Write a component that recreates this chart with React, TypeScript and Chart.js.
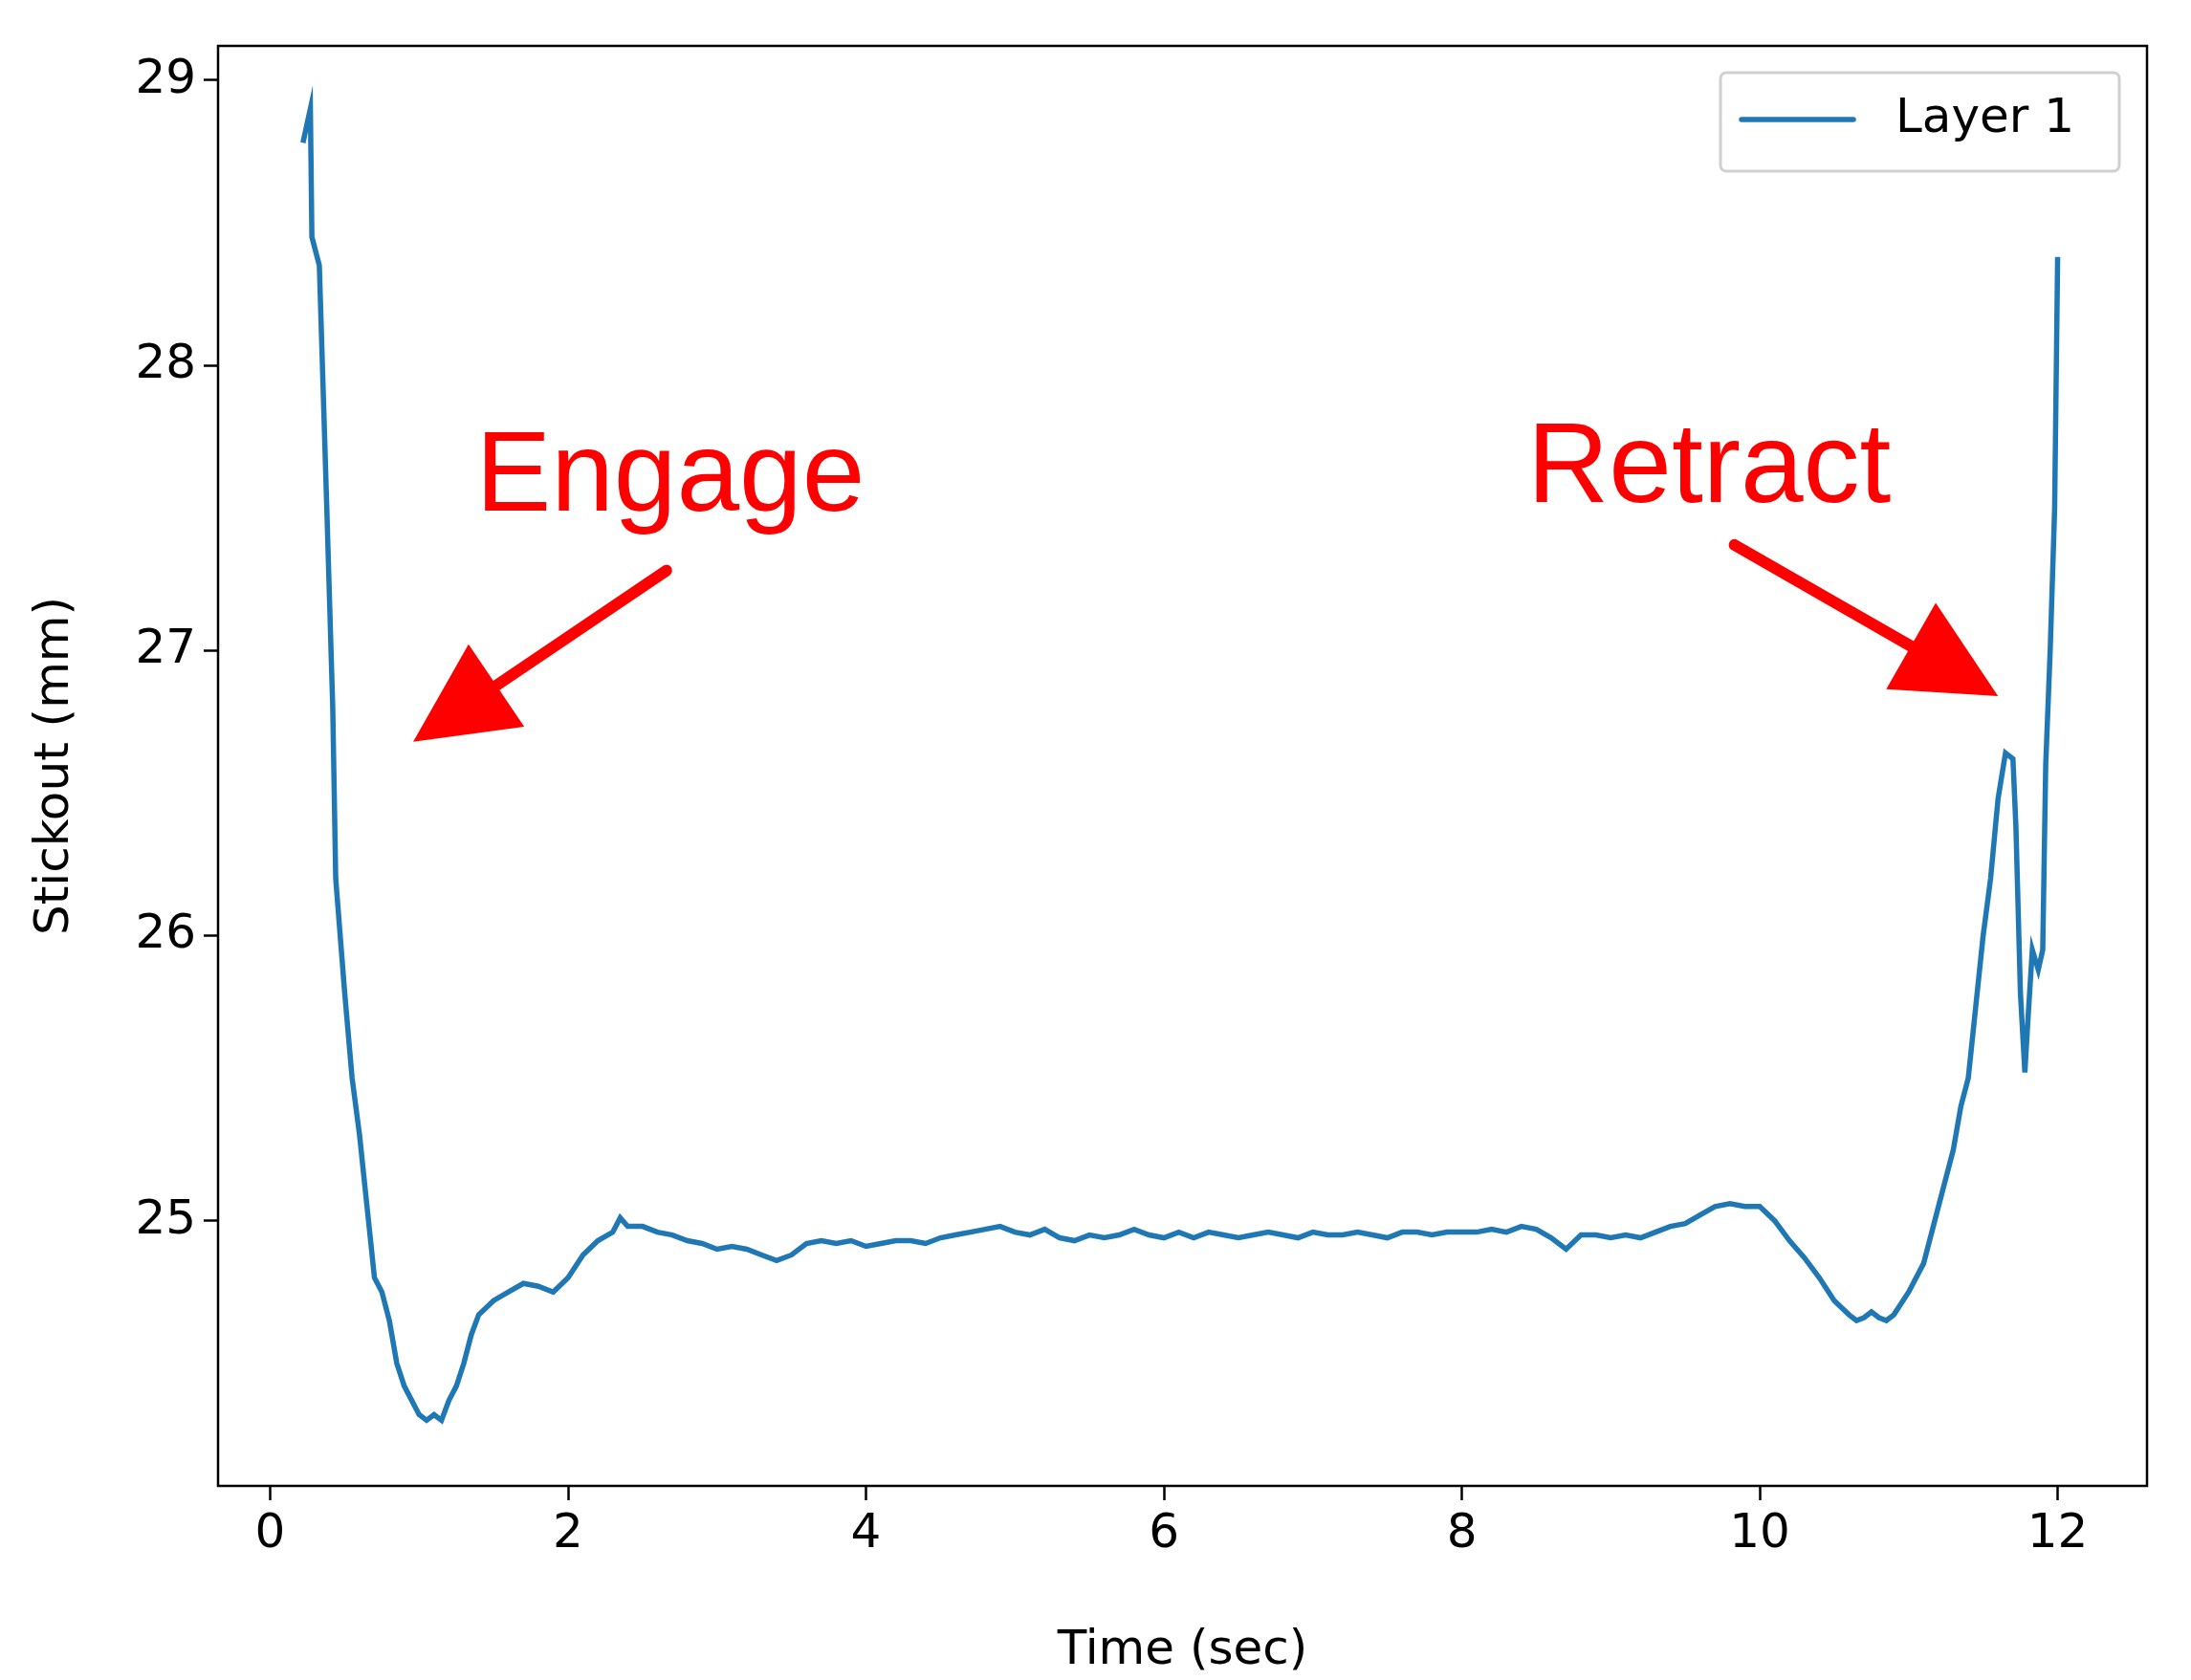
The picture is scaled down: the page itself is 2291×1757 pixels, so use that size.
import React, { useEffect, useRef } from "react";
import { Chart, registerables } from "chart.js";
Chart.register(...registerables);

const timeSec = [0.22,0.27,0.28,0.33,0.38,0.42,0.44,0.5,0.55,0.6,0.65,0.7,0.75,0.8,0.85,0.9,1.0,1.05,1.1,1.15,1.2,1.25,1.3,1.35,1.4,1.5,1.6,1.7,1.8,1.9,2.0,2.1,2.2,2.3,2.35,2.4,2.5,2.6,2.7,2.8,2.9,3.0,3.1,3.2,3.3,3.4,3.5,3.6,3.7,3.8,3.9,4.0,4.1,4.2,4.3,4.4,4.5,4.6,4.7,4.8,4.9,5.0,5.1,5.2,5.3,5.4,5.5,5.6,5.7,5.8,5.9,6.0,6.1,6.2,6.3,6.4,6.5,6.6,6.7,6.8,6.9,7.0,7.1,7.2,7.3,7.4,7.5,7.6,7.7,7.8,7.9,8.0,8.1,8.2,8.3,8.4,8.5,8.6,8.7,8.8,8.9,9.0,9.1,9.2,9.3,9.4,9.5,9.6,9.7,9.8,9.9,10.0,10.1,10.2,10.3,10.4,10.5,10.6,10.65,10.7,10.75,10.8,10.85,10.9,11.0,11.1,11.2,11.3,11.35,11.4,11.45,11.5,11.55,11.6,11.65,11.7,11.72,11.75,11.78,11.8,11.83,11.87,11.9,11.92,11.95,11.98,12.0];
const stickout = [28.78,28.9,28.45,28.35,27.5,26.8,26.2,25.8,25.5,25.3,25.05,24.8,24.75,24.65,24.5,24.42,24.32,24.3,24.32,24.3,24.37,24.42,24.5,24.6,24.67,24.72,24.75,24.78,24.77,24.75,24.8,24.88,24.93,24.96,25.01,24.98,24.98,24.96,24.95,24.93,24.92,24.9,24.91,24.9,24.88,24.86,24.88,24.92,24.93,24.92,24.93,24.91,24.92,24.93,24.93,24.92,24.94,24.95,24.96,24.97,24.98,24.96,24.95,24.97,24.94,24.93,24.95,24.94,24.95,24.97,24.95,24.94,24.96,24.94,24.96,24.95,24.94,24.95,24.96,24.95,24.94,24.96,24.95,24.95,24.96,24.95,24.94,24.96,24.96,24.95,24.96,24.96,24.96,24.97,24.96,24.98,24.97,24.94,24.9,24.95,24.95,24.94,24.95,24.94,24.96,24.98,24.99,25.02,25.05,25.06,25.05,25.05,25.0,24.93,24.87,24.8,24.72,24.67,24.65,24.66,24.68,24.66,24.65,24.67,24.75,24.85,25.05,25.25,25.4,25.5,25.75,26.0,26.2,26.48,26.64,26.62,26.38,25.8,25.52,25.7,25.95,25.88,25.95,26.6,27.0,27.5,28.38];
const xTicks = [0, 2, 4, 6, 8, 10, 12];
const yTicks = [25, 26, 27, 28, 29];
const seriesLabel = "Layer 1";
const annotations = [
  { text: "Engage", x: 1.38, y: 27.49, fromX: 2.66, fromY: 27.28, toX: 0.96, toY: 26.68 },
  { text: "Retract", x: 8.44, y: 27.52, fromX: 9.83, fromY: 27.37, toX: 11.6, toY: 26.84 },
];

const FONT = "'DejaVu Sans', sans-serif";

const overlay = {
  id: "overlay",
  afterDraw(chart: any) {
    const { ctx, chartArea: a, scales } = chart;
    const xs = scales.x, ys = scales.y;
    ctx.save();
    ctx.strokeStyle = "#000"; ctx.lineWidth = 2.5;
    ctx.strokeRect(a.left, a.top, a.right - a.left, a.bottom - a.top);
    for (const an of annotations) {
      ctx.fillStyle = "#ff0000"; ctx.strokeStyle = "#ff0000";
      ctx.font = "118px 'Liberation Sans', Arial, sans-serif";
      ctx.textBaseline = "alphabetic"; ctx.textAlign = "left";
      ctx.fillText(an.text, xs.getPixelForValue(an.x), ys.getPixelForValue(an.y));
      const x1 = xs.getPixelForValue(an.fromX), y1 = ys.getPixelForValue(an.fromY);
      const x2 = xs.getPixelForValue(an.toX), y2 = ys.getPixelForValue(an.toY);
      const ang = Math.atan2(y2 - y1, x2 - x1);
      const hl = 105, hw = 52;
      const bx = x2 - hl * Math.cos(ang), by = y2 - hl * Math.sin(ang);
      ctx.lineWidth = 12; ctx.lineCap = "round";
      ctx.beginPath(); ctx.moveTo(x1, y1); ctx.lineTo(bx, by); ctx.stroke();
      ctx.beginPath(); ctx.moveTo(x2, y2);
      ctx.lineTo(bx + hw * Math.sin(ang), by - hw * Math.cos(ang));
      ctx.lineTo(bx - hw * Math.sin(ang), by + hw * Math.cos(ang));
      ctx.closePath(); ctx.fill();
    }
    // legend
    const lx = a.right - 446, ly = a.top + 28, lw = 417, lh = 103;
    ctx.fillStyle = "rgba(255,255,255,0.8)"; ctx.strokeStyle = "#d0d0d0"; ctx.lineWidth = 3;
    ctx.beginPath(); (ctx as any).roundRect(lx, ly, lw, lh, 6); ctx.fill(); ctx.stroke();
    ctx.strokeStyle = "#1f77b4"; ctx.lineWidth = 5.5;
    ctx.beginPath(); ctx.moveTo(lx + 22, ly + 49); ctx.lineTo(lx + 139, ly + 49); ctx.stroke();
    ctx.fillStyle = "#000"; ctx.font = `50px ${FONT}`; ctx.textBaseline = "middle";
    ctx.fillText(seriesLabel, lx + 183, ly + 49);
    ctx.restore();
  },
};

export default function App() {
  const ref = useRef<HTMLCanvasElement>(null);
  useEffect(() => {
    document.body.style.margin = "0";
    const chart = new Chart(ref.current!, {
      type: "line",
      data: {
        datasets: [{
          label: seriesLabel,
          data: timeSec.map((t, i) => ({ x: t, y: stickout[i] })),
          borderColor: "#1f77b4", borderWidth: 5.5, pointRadius: 0, tension: 0, fill: false,
        }],
      },
      options: {
        responsive: false, animation: false, devicePixelRatio: 1,
        layout: { padding: { top: 48, right: 46, left: 28, bottom: 0 } },
        plugins: { legend: { display: false }, tooltip: { enabled: false } },
        scales: {
          x: {
            type: "linear", min: -0.35, max: 12.6,
            afterBuildTicks: (s: any) => { s.ticks = xTicks.map((v) => ({ value: v })); },
            afterFit: (s: any) => { s.height = 203; },
            grid: { display: true, drawOnChartArea: false, drawTicks: true, tickLength: 15, tickColor: "#000", tickWidth: 2.5 } as any,
            border: { display: false },
            ticks: { color: "#000", font: { family: FONT, size: 50 }, padding: 6, maxRotation: 0 },
            title: { display: true, text: "Time (sec)", color: "#000", font: { family: FONT, size: 50 }, padding: { top: 0, bottom: 0 } },
          },
          y: {
            type: "linear", min: 24.07, max: 29.12,
            afterBuildTicks: (s: any) => { s.ticks = yTicks.map((v) => ({ value: v })); },
            afterFit: (s: any) => { s.width = 200; },
            grid: { display: true, drawOnChartArea: false, drawTicks: true, tickLength: 15, tickColor: "#000", tickWidth: 2.5 } as any,
            border: { display: false },
            ticks: { color: "#000", font: { family: FONT, size: 50 }, padding: 8 },
            title: { display: true, text: "Stickout (mm)", color: "#000", font: { family: FONT, size: 50 }, padding: { top: 0, bottom: 16 } },
          },
        },
      },
      plugins: [overlay],
    });
    return () => chart.destroy();
  }, []);
  return <canvas ref={ref} width={2291} height={1757} style={{ display: "block" }} />;
}
